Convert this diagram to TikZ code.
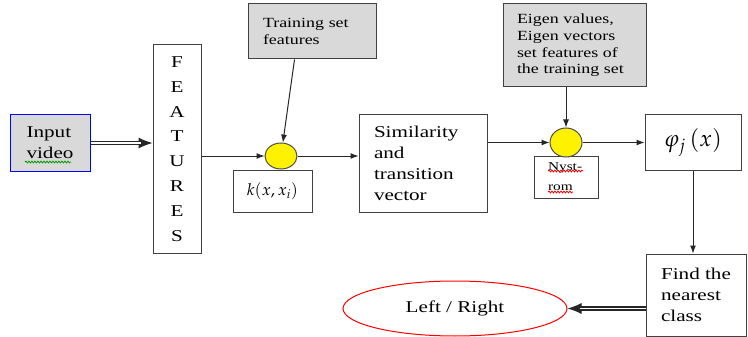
\documentclass[tikz,border=0pt]{standalone}
\usepackage{amsmath}
\usepackage{mathpazo}
\usepackage{fontspec}
\setmainfont{Liberation Serif}[FakeStretch=1.28]
\usetikzlibrary{arrows.meta,shapes.geometric,decorations.pathmorphing}
\tikzset{>={Latex[length=8pt,width=6pt]}}

\begin{document}
\begin{tikzpicture}[x=1pt,y=-1pt]
\useasboundingbox (0,0) rectangle (748,337);
\begin{scope}[every node/.style={rectangle,draw=black!75,line width=1pt,align=left,
    font=\fontsize{16.5}{21}\selectfont}]
\node[fill=black!15,draw=blue,minimum width=80pt,minimum height=56pt] (In) at (50,143) {Input\\video};
\node[align=center,minimum width=48pt,minimum height=208pt,font=\fontsize{16.5}{24.8}\selectfont]
    (Feat) at (177,149) {F\\E\\A\\T\\U\\R\\E\\S};
\node[fill=black!15,minimum width=128pt,minimum height=55pt,text width=98pt,font=\fontsize{14}{16.5}\selectfont]
    (Train) at (312,31.5) {Training set\\features};
\node[minimum width=79pt,minimum height=42pt] (Kx) at (272.5,191) {$k(x,x_i)$};
\node[minimum width=128pt,minimum height=97pt,text width=98pt] (Sim) at (423,163.5) {Similarity\\and\\transition\\vector};
\node[fill=black!15,minimum width=143pt,minimum height=83pt,text width=115pt,font=\fontsize{14}{16.7}\selectfont]
    (Eig) at (574.5,45.5) {Eigen values,\\Eigen vectors\\set features of\\the training set};
\node[minimum width=64pt,minimum height=42pt,text width=36pt,font=\fontsize{12}{20}\selectfont] (Nys) at (566,177) {Nyst-\\rom};
\node[minimum width=96pt,minimum height=55pt,font=\fontsize{23}{26}\selectfont] (Phi) at (693,142.5) {$\varphi_j\,(x)$};
\node[minimum width=100pt,minimum height=82pt] (Find) at (696,295) {Find the\\nearest\\class};
\end{scope}
\begin{scope}[every node/.style={ellipse,draw=black!70,line width=1pt,fill=yellow,inner sep=0pt}]
\node[minimum width=32pt,minimum height=26pt] (C1) at (281,156) {};
\node[minimum width=32pt,minimum height=29pt] (C2) at (566,142.5) {};
\end{scope}
\node[ellipse,draw=red,line width=1pt,minimum width=224pt,minimum height=55pt,
    font=\fontsize{16.5}{21}\selectfont] (LR) at (455,308.5) {Left / Right};

% spelling marks
\begin{scope}[line width=0.8pt,decoration={snake,amplitude=0.9pt,segment length=3pt}]
\draw[green!60!black,decorate] (25,162) -- (71,162);
\draw[red,decorate] (548,171) -- (583,171);
\draw[red,decorate] (548,192) -- (573,192);
\end{scope}

\begin{scope}[every edge/.style={draw=black!85,line width=1pt}]
    % heavy arrows: tip first, then the double line over it
    \path [-{Latex[length=14pt,width=11pt]}] (In) edge (In -| Feat.west);
    \path (In) edge [double,line width=1.2pt,double distance=1.8pt,shorten >=12pt] (In -| Feat.west);

    \path [->] (Feat.east |- C1) edge (C1);
    \path [->] (Train.238) edge (C1);
    \path [->] (C1) edge (C1 -| Sim.west);

    \path [->] (Sim.east |- C2) edge (C2);
    \path [->] (Eig.south -| C2) edge (C2);
    \path [->] (C2) edge (C2 -| Phi.west);

    \path [->] (Phi.south) edge (Phi.south |- Find.north);
    \path [-{Latex[length=14pt,width=11pt]}] (Find.west |- LR.east) edge (LR.east);
    \path (Find.west |- LR.east) edge [double,line width=1.2pt,double distance=1.8pt,shorten >=12pt] (LR.east);
\end{scope}
\end{tikzpicture}
\end{document}
